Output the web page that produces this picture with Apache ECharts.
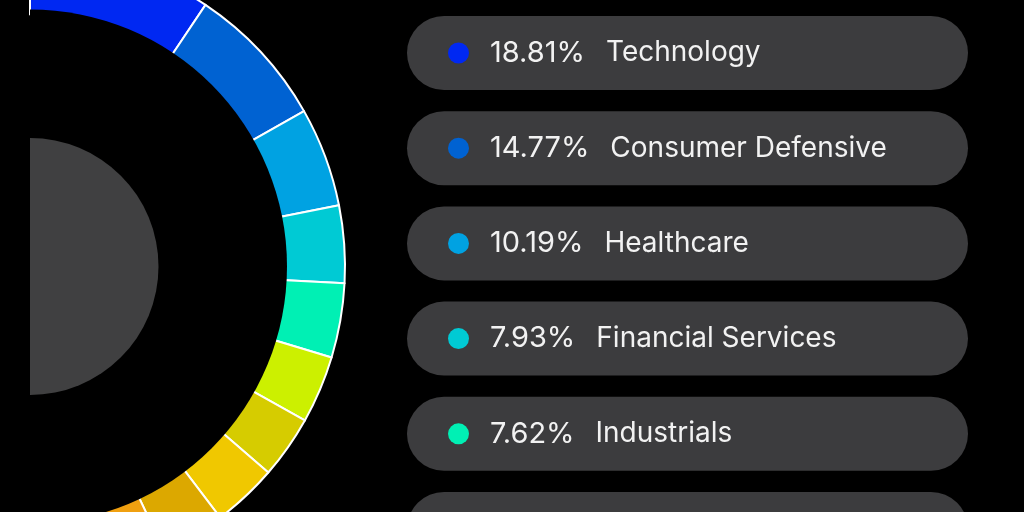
<!DOCTYPE html>
<html>
<head>
<meta charset="utf-8">
<script src="https://cdn.jsdelivr.net/npm/echarts@6/dist/echarts.min.js"></script>
<style>
  html, body { margin: 0; padding: 0; background: #000; }
  #chart { width: 1024px; height: 512px; }
</style>
</head>
<body>
<div id="chart"></div>
<script>
// sector weights of the portfolio (percent)
const sectors = [
  "Technology", "Consumer Defensive", "Healthcare", "Financial Services", "Industrials",
  "Consumer Cyclical", "Energy", "Communication Services", "Basic Materials",
  "Utilities", "Real Estate", "Other"
];
const shares = [18.81, 14.77, 10.19, 7.93, 7.62, 6.93, 6.44, 6.67, 6.61, 5.21, 4.93, 3.89];
const colors = [
  "#0028f2", "#0062d2", "#00a2e2", "#00cad4", "#00f0b4", "#ccf000",
  "#d6cc00", "#f0c800", "#dca800", "#f0a010", "#f07020", "#e04030"
];

const chart = echarts.init(document.getElementById("chart"));

const total = shares.reduce((a, b) => a + b, 0);
const center = [30, 266.5];
const rowH = 95.2; // distance between legend rows

// one rich style per dot colour
const rich = {
  pct: { fontSize: 29, color: "#f2f2f2", fontFamily: "Inter", padding: [0, 0, 0, 21] },
  name: { fontSize: 28, color: "#f2f2f2", fontFamily: "Inter", padding: [0, 0, 0, 21] }
};
colors.forEach((c, i) => {
  rich["d" + i] = { width: 21, height: 21, borderRadius: 10.5, backgroundColor: c };
});

chart.setOption({
  backgroundColor: "#000",
  animation: false,
  grid: {
    left: 407,
    width: 561,
    top: 53 - rowH / 2,
    height: rowH * sectors.length,
    outerBoundsMode: "none"
  },
  xAxis: { type: "value", min: 0, max: 100, show: false },
  yAxis: { type: "category", data: sectors, inverse: true, show: false },
  series: [
    {
      // ring
      type: "pie",
      center: center,
      radius: [252, 315],
      startAngle: 90,
      endAngle: -90,
      silent: true,
      label: { show: false },
      labelLine: { show: false },
      itemStyle: { borderColor: "#fff", borderWidth: 2 },
      data: sectors.map((n, i) => ({ name: n, value: shares[i], itemStyle: { color: colors[i] } }))
    },
    {
      // black hole over the ring's inner border
      type: "pie",
      center: center,
      radius: [0, 257],
      startAngle: 90,
      endAngle: -90,
      silent: true,
      label: { show: false },
      itemStyle: { color: "#000", borderWidth: 0 },
      data: [{ name: "hole", value: total }]
    },
    {
      type: "pie",
      center: center,
      radius: [0, 128.5],
      startAngle: 90,
      endAngle: -90,
      silent: true,
      label: { show: false },
      itemStyle: { color: "#404041", borderWidth: 0 },
      data: [{ name: "core", value: total }]
    },
    {
      // legend rows
      type: "bar",
      barWidth: 74,
      silent: true,
      showBackground: true,
      backgroundStyle: { color: "#3c3c3e", borderRadius: 37 },
      itemStyle: { color: "rgba(0,0,0,0)" },
      label: {
        show: true,
        position: "insideLeft",
        distance: 41,
        formatter: (p) => "{d" + p.dataIndex + "|}{pct|" + shares[p.dataIndex].toFixed(2) + "%}{name|" + p.name + "}",
        rich: rich
      },
      data: shares
    }
  ]
});
</script>
</body>
</html>
